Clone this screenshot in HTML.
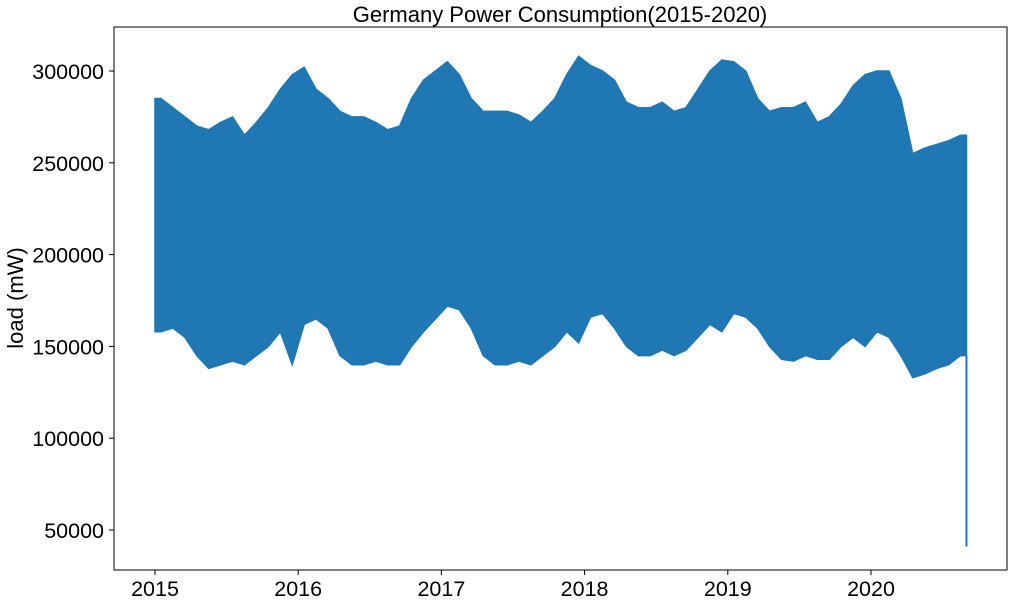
<!DOCTYPE html>
<html><head><meta charset="utf-8"><style>
html,body{margin:0;padding:0;background:#fff;}
svg{display:block;font-family:"Liberation Sans","DejaVu Sans",sans-serif;}
</style></head><body>
<svg id="chart" width="1014" height="604">
<text x="560" y="22" font-size="22" text-anchor="middle">Germany Power Consumption(2015-2020)</text>
<text transform="translate(23,298) rotate(-90)" font-size="22" text-anchor="middle">load (mW)</text>
<g id="series"></g>
<g id="xaxis"></g>
<g id="yaxis"></g>
<rect x="114" y="27" width="893" height="543" fill="none" stroke="#000" stroke-width="1"/>
</svg>
<script>
const upperK = [285,280,275,270,268,272,275,265,272,280,290,298,
 302,290,285,278,275,275,272,268,270,285,295,300,
 305,298,285,278,278,278,276,272,278,285,298,308,
 303,300,295,283,280,280,283,278,280,290,300,306,
 305,300,285,278,280,280,283,272,275,282,292,298,
 300,300,285,255,258,260,262,265];
const lowerK = [158,160,155,145,138,140,142,140,145,150,158,140,
 162,165,160,145,140,140,142,140,140,150,158,165,
 172,170,160,145,140,140,142,140,145,150,158,152,
 166,168,160,150,145,145,148,145,148,155,162,158,
 168,166,160,150,143,142,145,143,143,150,155,150,
 158,155,145,133,135,138,140,145];
const finalDrop = 41;
const yTicks = [50000,100000,150000,200000,250000,300000];
const xTicks = [2015,2016,2017,2018,2019,2020];

const NS="http://www.w3.org/2000/svg";
function xs(yr){return 155+(yr-2015)*143.2;}
function ys(v){return 71+(300000-v)*0.001836;}
function mk(tag,attrs,parent){const e=document.createElementNS(NS,tag);for(const k in attrs)e.setAttribute(k,attrs[k]);parent.appendChild(e);return e;}

const series=document.getElementById('series');
const n=upperK.length;
function tc(i){return 2015+(i+0.5)/12;}
let pts=[xs(2015)+','+ys(upperK[0]*1000)];
for(let i=0;i<n;i++)pts.push(xs(tc(i))+','+ys(upperK[i]*1000));
const endT=2015+n/12;
pts.push(xs(endT)+','+ys(upperK[n-1]*1000));
pts.push(xs(endT)+','+ys(finalDrop*1000));
pts.push(xs(endT)+','+ys(lowerK[n-1]*1000));
for(let i=n-1;i>=0;i--)pts.push(xs(tc(i))+','+ys(lowerK[i]*1000));
pts.push(xs(2015)+','+ys(lowerK[0]*1000));
const poly=mk('polygon',{points:pts.join(' '),fill:'#1f77b4',stroke:'#1f77b4','stroke-width':1.5},series);


const endX=xs(endT);
const drop=mk('line',{x1:endX,x2:endX,y1:ys(lowerK[n-1]*1000),y2:ys(finalDrop*1000),stroke:'#1f77b4','stroke-width':2},series);



const xa=document.getElementById('xaxis');
xTicks.forEach(t=>{
  const x=xs(t);
  const l=mk('line',{x1:x,x2:x,y1:570,y2:575,stroke:'#000'},xa);
  
  
  const tx=mk('text',{x:x,y:596,'font-size':21.5,'text-anchor':'middle'},xa);
  tx.textContent=t;
  
  
});
const ya=document.getElementById('yaxis');
yTicks.forEach(v=>{
  const y=ys(v);
  const l=mk('line',{x1:109,x2:114,y1:y,y2:y,stroke:'#000'},ya);
  
  
  const tx=mk('text',{x:104,y:y+8,'font-size':21.5,'text-anchor':'end'},ya);
  tx.textContent=v;
  
  
});
</script>
</body></html>
